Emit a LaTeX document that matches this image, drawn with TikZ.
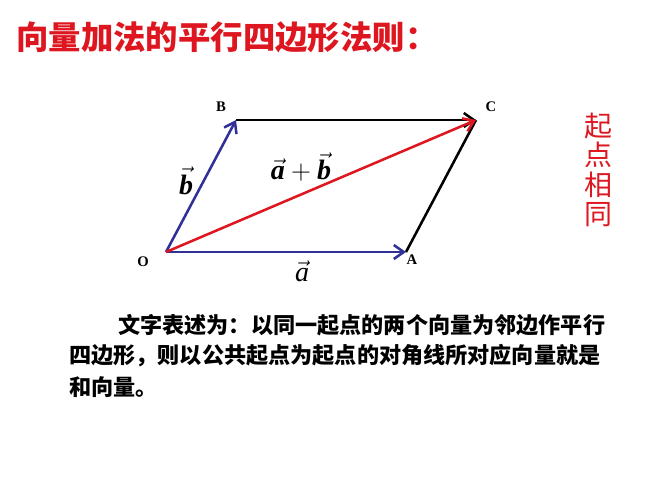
\documentclass[tikz,border=0pt]{standalone}
\usepackage{amsmath}
\usepackage{fontspec}
\setmainfont{Liberation Serif}
\newfontfamily\cjk{Noto Sans CJK SC}
\usetikzlibrary{arrows.meta}
\definecolor{tred}{RGB}{222,22,32}
\definecolor{vblue}{RGB}{48,48,150}
\newcommand{\bva}{\vec{\text{\bfseries\itshape a}}}
\newcommand{\bvb}{\vec{\text{\bfseries\itshape b}}}
\tikzset{
  vec/.style={line width=1.9pt,-{Straight Barb[length=7.5pt,width=10.5pt,line width=1.9pt]}},
  side/.style={line width=1.9pt},
  pt/.style={font=\bfseries\fontsize{11}{11}\selectfont,inner sep=0pt},
  lab/.style={inner sep=0pt,font=\fontsize{21}{21}\selectfont},
  para/.style={font=\cjk\bfseries\fontsize{16.6}{16.6}\selectfont,anchor=west,inner sep=0pt}
}
\begin{document}
\begin{tikzpicture}[x=0.75pt,y=-0.75pt]
\useasboundingbox (0,0) rectangle (667,500);
\node[anchor=west,inner sep=0pt,text=tred,font=\cjk\bfseries\fontsize{24.3}{24.3}\selectfont] (title) at (16,37) {向量加法的平行四边形法则：};
\coordinate (O) at (166,252);
\coordinate (A) at (406,252);
\coordinate (B) at (236,120);
\coordinate (C) at (476,120);
\draw[side] (A) -- (C);
\draw[vec,black] (B) -- (C);
\draw[vec,vblue] (O) -- (A);
\draw[vec,vblue] (O) -- (B);
\draw[vec,tred] (O) -- (C);
\node[pt] (lO) at (143,262) {O};
\node[pt] (lA) at (412,260) {A};
\node[pt] (lB) at (221,107) {B};
\node[pt] (lC) at (491,107) {C};
\node[lab] (lb) at (186,181) {$\bvb$};
\node[lab] (lab) at (301,167) {$\bva+\bvb$};
\node[lab] (la) at (302,271) {$\vec{\text{\itshape a}}$};
\node[inner sep=0pt,text=tred,font=\cjk\fontsize{21}{21}\selectfont,align=center] (side) at (598,170) {起\\[1pt]点\\[1pt]相\\[1pt]同};
\node[para] (p1) at (118,325) {文字表述为：以同一起点的两个向量为邻边作平行};
\node[para] (p2) at (69,356) {四边形，则以公共起点为起点的对角线所对应向量就是};
\node[para] (p3) at (69,387) {和向量。};
\end{tikzpicture}
\end{document}
